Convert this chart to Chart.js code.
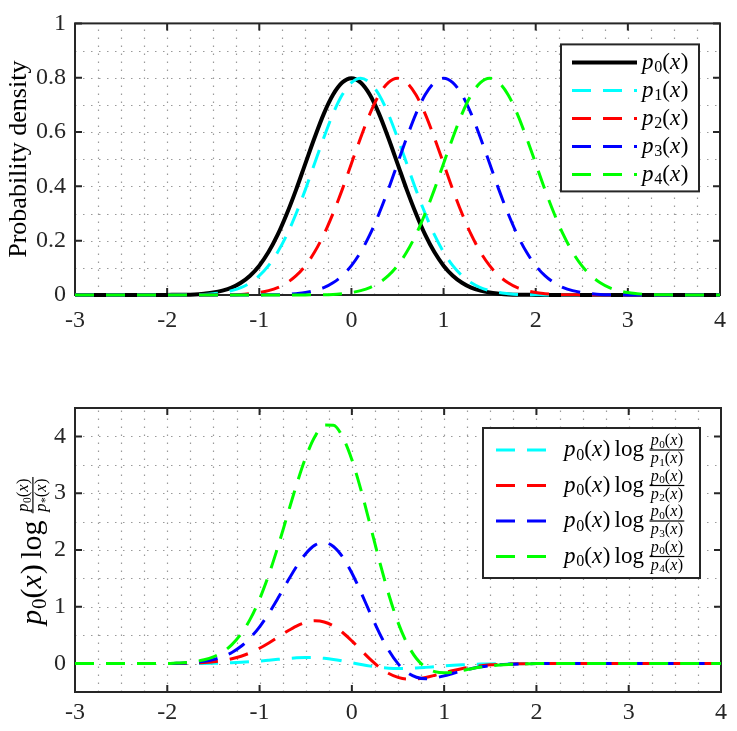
<!DOCTYPE html>
<html><head><meta charset="utf-8">
<script src="https://cdn.jsdelivr.net/npm/chart.js@4.4.0/dist/chart.umd.min.js"></script>
<style>
html,body{margin:0;padding:0;background:#fff;}
#wrap{position:relative;width:737px;height:731px;overflow:hidden;background:#fff;}
.box{position:absolute;left:0;}
</style></head><body>
<div id="wrap">
<div class="box" style="top:0;width:737px;height:360px"><canvas id="c1" width="737" height="360"></canvas></div>
<div class="box" style="top:360px;width:737px;height:371px"><canvas id="c2" width="737" height="371"></canvas></div>
</div>
<script>
// ---------- data ----------
const xs = [-3,-2.9,-2.8,-2.7,-2.6,-2.5,-2.4,-2.3,-2.2,-2.1,-2,-1.9,-1.8,-1.7,-1.6,-1.5,-1.4,-1.3,-1.2,-1.1,-1,-0.9,-0.8,-0.7,-0.6,-0.5,-0.4,-0.3,-0.2,-0.1,0,0.1,0.2,0.3,0.4,0.5,0.6,0.7,0.8,0.9,1,1.1,1.2,1.3,1.4,1.5,1.6,1.7,1.8,1.9,2,2.1,2.2,2.3,2.4,2.5,2.6,2.7,2.8,2.9,3,3.1,3.2,3.3,3.4,3.5,3.6,3.7,3.8,3.9,4];

const p0 = [0,0,0,0,0, 0,0,0,0,0, 0,
 0.001,0.001,0.002,0.005,0.009,0.016,0.027,0.045,0.071,0.108,0.158,0.222,0.300,0.388,0.484,0.579,0.667,0.737,0.782,0.798,0.782,0.737,0.667,0.579,0.484,0.388,0.300,0.222,0.158,0.108,0.071,0.045,0.027,0.016,0.009,0.005,0.002,0.001,0.001,
 0,0,0,0,0, 0,0,0,0,0, 0,0,0,0,0, 0,0,0,0,0, 0];
const p1 = [0,0,0,0,0, 0,0,0,0,0, 0,0,
 0.001,0.001,0.002,0.005,0.009,0.016,0.027,0.045,0.071,0.108,0.158,0.222,0.300,0.388,0.484,0.579,0.667,0.737,0.782,0.798,0.782,0.737,0.667,0.579,0.484,0.388,0.300,0.222,0.158,0.108,0.071,0.045,0.027,0.016,0.009,0.005,0.002,0.001,0.001,
 0,0,0,0,0, 0,0,0,0,0, 0,0,0,0,0, 0,0,0,0,0];
const p2 = [0,0,0,0,0, 0,0,0,0,0, 0,0,0,0,0, 0,
 0.001,0.001,0.002,0.005,0.009,0.016,0.027,0.045,0.071,0.108,0.158,0.222,0.300,0.388,0.484,0.579,0.667,0.737,0.782,0.798,0.782,0.737,0.667,0.579,0.484,0.388,0.300,0.222,0.158,0.108,0.071,0.045,0.027,0.016,0.009,0.005,0.002,0.001,0.001,
 0,0,0,0,0, 0,0,0,0,0, 0,0,0,0,0, 0];
const p3 = [0,0,0,0,0, 0,0,0,0,0, 0,0,0,0,0, 0,0,0,0,0, 0,
 0.001,0.001,0.002,0.005,0.009,0.016,0.027,0.045,0.071,0.108,0.158,0.222,0.300,0.388,0.484,0.579,0.667,0.737,0.782,0.798,0.782,0.737,0.667,0.579,0.484,0.388,0.300,0.222,0.158,0.108,0.071,0.045,0.027,0.016,0.009,0.005,0.002,0.001,0.001,
 0,0,0,0,0, 0,0,0,0,0, 0];
const p4 = [0,0,0,0,0, 0,0,0,0,0, 0,0,0,0,0, 0,0,0,0,0, 0,0,0,0,0, 0,
 0.001,0.001,0.002,0.005,0.009,0.016,0.027,0.045,0.071,0.108,0.158,0.222,0.300,0.388,0.484,0.579,0.667,0.737,0.782,0.798,0.782,0.737,0.667,0.579,0.484,0.388,0.300,0.222,0.158,0.108,0.071,0.045,0.027,0.016,0.009,0.005,0.002,0.001,0.001,
 0,0,0,0,0, 0];

const q1 = [0,0,0,0,0, 0,0,0,0,0, 0,
 0.0005,0.0009,0.0018,0.0032,0.0055,0.0092,0.0147,0.0224,0.0326,0.0454,0.0600,0.0754,0.0899,0.1010,0.1065,0.1043,0.0933,0.0737,0.0469,0.0160,-0.0156,-0.0442,-0.0667,-0.0811,-0.0871,-0.0854,-0.0779,-0.0665,-0.0537,-0.0410,-0.0298,-0.0206,-0.0136,-0.0085,-0.0052,-0.0030,-0.0017,-0.0008,-0.0004,
 0,0,0,0,0, 0,0,0,0,0, 0,0,0,0,0, 0,0,0,0,0, 0];
const q2 = [0,0,0,0,0, 0,0,0,0,0, 0,
 0.0026,0.0049,0.0098,0.0178,0.0312,0.0521,0.0843,0.1299,0.1914,0.2700,0.3632,0.4658,0.5691,0.6603,0.7259,0.7532,0.7332,0.6629,0.5475,0.3990,0.2346,0.0737,-0.0667,-0.1738,-0.2420,-0.2719,-0.2696,-0.2440,-0.2053,-0.1620,-0.1205,-0.0851,-0.0571,-0.0363,-0.0223,-0.0130,-0.0073,-0.0037,-0.0020,
 0,0,0,0,0, 0,0,0,0,0, 0,0,0,0,0, 0,0,0,0,0, 0];
const q3 = [0,0,0,0,0, 0,0,0,0,0, 0,
 0.0058,0.0110,0.0220,0.0403,0.0712,0.1201,0.1958,0.3046,0.4538,0.6480,0.8842,1.1534,1.4376,1.7090,1.9356,2.0858,2.1328,2.0622,1.8770,1.5958,1.2514,0.8838,0.5332,0.2318,0,-0.1554,-0.2396,-0.2662,-0.2526,-0.2160,-0.1702,-0.1254,-0.0870,-0.0569,-0.0356,-0.0211,-0.0120,-0.0062,-0.0034,
 0,0,0,0,0, 0,0,0,0,0, 0,0,0,0,0, 0,0,0,0,0, 0];
const q4 = [0,0,0,0,0, 0,0,0,0,0, 0,
 0.0095,0.0184,0.0368,0.0677,0.1202,0.2038,0.3346,0.5242,0.7870,1.1340,1.5632,2.0627,2.6057,3.1460,3.6293,3.9979,4.1990,4.1981,3.9887,3.5906,3.0502,2.4305,1.7996,1.2167,0.7259,0.3496,0.0899,-0.0665,-0.1421,-0.1620,-0.1489,-0.1210,-0.0898,-0.0616,-0.0401,-0.0245,-0.0143,-0.0076,-0.0041,
 0,0,0,0,0, 0,0,0,0,0, 0,0,0,0,0, 0,0,0,0,0, 0];

const xTicks = [-3,-2,-1,0,1,2,3,4];
const yTicksTop = [0,0.2,0.4,0.6,0.8,1];
const yTicksBottom = [0,1,2,3,4];
const xMinor = [-3,-2.75,-2.5,-2.25,-2,-1.75,-1.5,-1.25,-1,-0.75,-0.5,-0.25,0,0.25,0.5,0.75,1,1.25,1.5,1.75,2,2.25,2.5,2.75,3,3.25,3.5,3.75,4];
const yMinorTop = [0,0.1,0.2,0.3,0.4,0.5,0.6,0.7,0.8,0.9,1];
const yMinorBottom = [-0.5,0,0.5,1,1.5,2,2.5,3,3.5,4,4.5];

const topLabels = ['p_0(x)','p_1(x)','p_2(x)','p_3(x)','p_4(x)'];
const bottomLabels = ['p_0(x)\\log\\frac{p_0(x)}{p_1(x)}','p_0(x)\\log\\frac{p_0(x)}{p_2(x)}','p_0(x)\\log\\frac{p_0(x)}{p_3(x)}','p_0(x)\\log\\frac{p_0(x)}{p_4(x)}'];
const topTitle = 'Probability density';
const bottomTitle = 'p_0(x)\\log\\frac{p_0(x)}{p_*(x)}';
const topColors = ['#000000','#00ffff','#ff0000','#0000ff','#00ff00'];
const bottomColors = ['#00ffff','#ff0000','#0000ff','#00ff00'];

// ---------- helpers ----------
const SERIF = '"Liberation Serif","Times New Roman",Times,serif';
const AX = '#262626';
const DASH = [19,12];
function fnt(size, it){ return (it?'italic ':'') + size + 'px ' + SERIF; }
function runMath(ctx, s, x, y, size, draw){
  let w = 0, i = 0;
  while (i < s.length){
    const ch = s[i];
    if (s.startsWith('\\log', i)){
      w += size*0.18;
      ctx.font = fnt(size,false);
      if (draw) ctx.fillText('log', x+w, y);
      w += ctx.measureText('log').width + size*0.18;
      i += 4; continue;
    }
    if (ch === '_'){
      const c = s[i+1], ss = size*0.7;
      ctx.font = fnt(ss, /[a-z]/i.test(c));
      if (draw) ctx.fillText(c, x+w, y + size*0.16);
      w += ctx.measureText(c).width;
      i += 2; continue;
    }
    const it = /[a-z]/i.test(ch);
    ctx.font = fnt(size, it);
    if (draw) ctx.fillText(ch, x+w, y);
    w += ctx.measureText(ch).width + (it ? size*0.03 : 0);
    i++;
  }
  return w;
}
function mathExpr(ctx, s, x, y, size, draw, fr){
  fr = fr || 0.7;
  const m = s.match(/^(.*?)\\frac\{([^}]*)\}\{([^}]*)\}(.*)$/);
  if (!m) return runMath(ctx, s, x, y, size, draw);
  let w = runMath(ctx, m[1], x, y, size, draw);
  w += size*0.06;
  const fs = size*fr;
  const wn = runMath(ctx, m[2], 0, 0, fs, false);
  const wd = runMath(ctx, m[3], 0, 0, fs, false);
  const fw = Math.max(wn, wd) + size*0.1;
  const axis = y - size*0.27;
  if (draw){
    runMath(ctx, m[2], x+w+(fw-wn)/2, axis - (0.22*fs + 1.2), fs, true);
    runMath(ctx, m[3], x+w+(fw-wd)/2, axis + (0.76*fs + 1.0), fs, true);
    ctx.fillRect(x+w, axis - 0.6, fw, 1.2);
  }
  w += fw + size*0.06;
  w += runMath(ctx, m[4], x+w, y, size, draw);
  return w;
}

function framePlugin(cfg){
  return {
    id:'frame'+cfg.key,
    beforeDraw(chart){
      const c = chart.ctx; c.save(); c.fillStyle='#fff'; c.fillRect(0,0,chart.width,chart.height); c.restore();
    },
    beforeDatasetsDraw(chart){
      const c = chart.ctx, a = chart.chartArea, sx = chart.scales.x, sy = chart.scales.y;
      c.save();
      c.strokeStyle = '#9a9a9a'; c.lineWidth = 1.2; c.setLineDash([1.5,6.5]);
      cfg.xMinor.forEach(v=>{ const px = Math.round(sx.getPixelForValue(v))+0.5; if (px<=a.left+1||px>=a.right-1) return; c.beginPath(); c.moveTo(px,a.bottom); c.lineTo(px,a.top); c.stroke(); });
      cfg.yMinor.forEach(v=>{ const py = Math.round(sy.getPixelForValue(v))+0.5; if (py<=a.top+1||py>=a.bottom-1) return; c.beginPath(); c.moveTo(a.left,py); c.lineTo(a.right,py); c.stroke(); });
      c.setLineDash([]);
      c.strokeStyle = AX; c.lineWidth = 2;
      c.strokeRect(a.left, a.top, a.right-a.left, a.bottom-a.top);
      const TL = 7;
      xTicks.forEach(v=>{ const px = sx.getPixelForValue(v); c.beginPath(); c.moveTo(px,a.bottom); c.lineTo(px,a.bottom-TL); c.moveTo(px,a.top); c.lineTo(px,a.top+TL); c.stroke(); });
      cfg.yTicks.forEach(v=>{ const py = sy.getPixelForValue(v); c.beginPath(); c.moveTo(a.left,py); c.lineTo(a.left+TL,py); c.moveTo(a.right,py); c.lineTo(a.right-TL,py); c.stroke(); });
      c.restore();
    },
    afterDraw(chart){
      const c = chart.ctx, a = chart.chartArea;
      c.save();
      c.fillStyle = '#000'; c.textBaseline = 'alphabetic'; c.textAlign = 'left';
      // y title
      c.save();
      c.translate(cfg.titleX, (a.top+a.bottom)/2 + (cfg.titleDy||0));
      c.rotate(-Math.PI/2);
      if (cfg.titleMath){
        const w = mathExpr(c, cfg.title, 0, 0, cfg.titleSize, false, cfg.titleFr);
        mathExpr(c, cfg.title, -w/2, 0, cfg.titleSize, true, cfg.titleFr);
      } else {
        c.font = fnt(cfg.titleSize,false); c.textAlign='center';
        c.fillText(cfg.title, 0, 0);
      }
      c.restore();
      // legend
      const L = cfg.legend;
      const bx = a.right - L.right - L.w, by = a.top + L.top;
      c.fillStyle = '#fff'; c.fillRect(bx, by, L.w, L.h);
      c.strokeStyle = AX; c.lineWidth = 2; c.strokeRect(bx, by, L.w, L.h);
      cfg.labels.forEach((lab,i)=>{
        const ry = by + L.first + L.step*i;
        const ds = chart.data.datasets[i];
        c.strokeStyle = ds.borderColor; c.lineWidth = ds.borderWidth;
        c.setLineDash(ds.borderDash||[]);
        c.beginPath(); c.moveTo(bx+L.lx0, ry); c.lineTo(bx+L.lx1, ry); c.stroke();
        c.setLineDash([]);
        c.fillStyle = '#000';
        mathExpr(c, lab, bx+L.tx, ry + L.size*0.27, L.size, true, 0.7);
      });
      c.restore();
    }
  };
}

function makeChart(id, series, colors, widths, yMin, yMax, yTicks, cfg, pad, xH, xPad){
  return new Chart(document.getElementById(id), {
    type:'line',
    data:{datasets: series.map((arr,k)=>({
      data: xs.map((x,i)=>({x:x, y:arr[i]})),
      borderColor: colors[k], borderWidth: widths[k], borderDash: widths[k]>3.5?[]:DASH,
      pointRadius:0, fill:false, cubicInterpolationMode:'monotone', clip:false, order: series.length-k
    }))},
    options:{
      responsive:false, animation:false, devicePixelRatio:1,
      layout:{padding:pad},
      plugins:{legend:{display:false}, tooltip:{enabled:false}},
      scales:{
        x:{type:'linear', min:-3, max:4,
           afterBuildTicks: s=>{ s.ticks = xTicks.map(v=>({value:v})); },
           afterFit: s=>{ s.height = xH; },
           grid:{display:false, drawTicks:false, tickLength:0}, border:{display:false},
           ticks:{font:{family:SERIF,size:24}, color:AX, padding:xPad, maxRotation:0, autoSkip:false, callback:v=>String(v)}},
        y:{type:'linear', min:yMin, max:yMax,
           afterBuildTicks: s=>{ s.ticks = yTicks.map(v=>({value:v})); },
           afterFit: s=>{ s.width = 75; },
           grid:{display:false, drawTicks:false, tickLength:0}, border:{display:false},
           ticks:{font:{family:SERIF,size:24}, color:AX, padding:9, autoSkip:false, callback:v=>String(v)}}
      }
    },
    plugins:[framePlugin(cfg)]
  });
}

makeChart('c1', [p0,p1,p2,p3,p4], topColors, [4,3,3,3,3], 0, 1, yTicksTop,
  {key:1, xMinor:xMinor, yMinor:yMinorTop, yTicks:yTicksTop, title:topTitle, titleMath:false, titleSize:26, titleX:26,
   labels:topLabels, legend:{right:21, top:21, w:138, h:147, first:18, step:28, lx0:11, lx1:76, tx:81, size:23}},
  {left:0, right:16, top:12, bottom:0}, 65, 11);

makeChart('c2', [q1,q2,q3,q4], bottomColors, [3,3,3,3], -0.5, 4.5, yTicksBottom,
  {key:2, xMinor:xMinor, yMinor:yMinorBottom, yTicks:yTicksBottom, title:bottomTitle, titleMath:true, titleSize:30, titleX:41, titleFr:0.55,
   labels:bottomLabels, legend:{right:21, top:20, w:217, h:150, first:22, step:35.5, lx0:13, lx1:67, tx:81, size:23}},
  {left:0, right:16, top:48, bottom:0}, 39, 6);
</script>
</body></html>
